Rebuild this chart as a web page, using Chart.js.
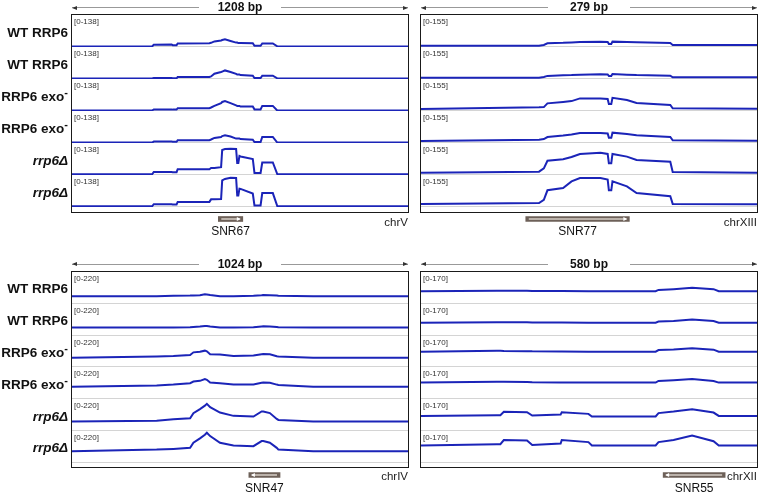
<!DOCTYPE html>
<html lang="en">
<head>
<meta charset="UTF-8">
<title>snoRNA read coverage</title>
<script src="https://cdn.jsdelivr.net/npm/chart.js"></script>
<style>
  body { margin: 0; background: #fff; font-family: "Liberation Sans", Arial, sans-serif; }
  #fig { position: relative; width: 758px; height: 498px; overflow: hidden; background: #fff; }
  canvas { position: absolute; }
  .lab { position: absolute; left: 0; width: 68px; text-align: right; font-weight: bold; font-size: 13.5px; line-height: 16px; color: #111; white-space: nowrap; }
  .lab i { font-style: italic; }
  .lab .m { position: relative; top: -5px; font-size: 11px; }
  .rng { position: absolute; font-size: 8px; line-height: 9px; color: #333; }
  .box { position: absolute; border: 1.5px solid #1a1a1a; box-sizing: border-box; pointer-events: none; }
  .chr { position: absolute; font-size: 11.5px; line-height: 13px; color: #222; white-space: nowrap; }
  .rl { position: absolute; height: 0; border-top: 1px solid #999; }
  .ah { position: absolute; width: 0; height: 0; border-top: 2px solid transparent; border-bottom: 2px solid transparent; }
  .bp { position: absolute; font-weight: bold; font-size: 12px; line-height: 14px; color: #111; text-align: center; width: 82px; }
</style>
</head>
<body>
<div id="fig"></div>
<script>
  // sample names, one per track (same order in every panel)
  const sampleLabels = ['WT RRP6', 'WT RRP6', 'RRP6 exo-', 'RRP6 exo-', 'rrp6Δ', 'rrp6Δ'];

  // SNR67 window, chrV, 1208 bp, scale 0-138
  const snr67Pos  = [0, 288, 294, 358, 362, 376, 380, 494, 500, 512, 536, 540, 550, 570, 590, 594, 598, 602, 606, 650, 656, 678, 684, 722, 738, 1208];
  const snr67Wt1  = [2, 2, 10, 11, 8, 8, 15, 16, 18, 24, 28, 30, 33, 26, 19, 19, 17, 17, 17, 16, 5, 5, 15, 15, 3, 2];
  const snr67Wt2  = [2, 2, 4, 4, 3, 3, 9, 9, 11, 23, 30, 32, 37, 30, 22, 19, 19, 19, 17, 14, 4, 4, 14, 14, 3, 2];
  const snr67Exo1 = [2, 2, 7, 7, 6, 6, 12, 12, 15, 22, 34, 39, 43, 34, 24, 22, 22, 22, 19, 19, 7, 7, 22, 22, 2, 2];
  const snr67Exo2 = [2, 2, 6, 6, 5, 5, 12, 12, 15, 22, 26, 30, 33, 28, 19, 19, 19, 19, 17, 14, 4, 4, 26, 26, 2, 2];
  const snr67Del1 = [3, 3, 13, 13, 12, 12, 25, 25, 30, 30, 34, 108, 112, 113, 112, 52, 52, 82, 80, 69, 9, 9, 54, 54, 4, 3];
  const snr67Del2 = [3, 3, 12, 12, 11, 11, 22, 22, 33, 33, 34, 115, 121, 126, 125, 50, 50, 79, 78, 58, 7, 7, 60, 60, 4, 3];

  // SNR77 window, chrXIII, 279 bp, scale 0-155
  const snr77Pos  = [0, 98, 102, 105, 118, 125, 132, 149, 155, 156, 158, 159, 171, 179, 207, 209, 279];
  const snr77Wt1  = [6, 6, 10, 18, 20, 22, 24, 26, 24, 15, 15, 26, 24, 23, 19, 10, 10];
  const snr77Wt2  = [6, 6, 10, 15, 18, 19, 21, 23, 22, 15, 15, 24, 21, 19, 16, 8, 8];
  const snr77Exo1 = [10, 18, 19, 37, 44, 48, 61, 61, 58, 34, 34, 64, 53, 39, 29, 13, 11];
  const snr77Exo2 = [10, 16, 19, 29, 36, 41, 48, 48, 46, 26, 26, 50, 44, 37, 29, 13, 11];
  const snr77Del1 = [11, 16, 32, 69, 76, 87, 102, 108, 102, 57, 57, 102, 89, 73, 64, 15, 11];
  const snr77Del2 = [15, 19, 35, 81, 92, 124, 140, 140, 133, 81, 81, 124, 100, 68, 52, 15, 13];

  // SNR47 window, chrIV, 1024 bp, scale 0-220
  const snr47Pos  = [0, 258, 309, 360, 370, 390, 405, 411, 421, 451, 492, 553, 578, 583, 603, 624, 629, 735, 1024];
  const snr47Wt1  = [53, 53, 56, 58, 59, 60, 67, 66, 62, 53, 53, 56, 60, 62, 61, 58, 56, 53, 53];
  const snr47Wt2  = [58, 58, 59, 60, 62, 65, 69, 68, 65, 58, 58, 60, 66, 67, 66, 62, 60, 58, 58];
  const snr47Exo1 = [65, 74, 78, 85, 104, 108, 116, 111, 90, 88, 78, 81, 90, 92, 90, 76, 74, 65, 65];
  const snr47Exo2 = [85, 92, 99, 109, 120, 125, 137, 132, 113, 108, 99, 99, 111, 113, 111, 99, 97, 85, 85];
  const snr47Del1 = [65, 71, 81, 88, 123, 151, 174, 187, 164, 127, 104, 99, 134, 134, 123, 83, 76, 65, 65];
  const snr47Del2 = [81, 92, 97, 104, 139, 169, 194, 208, 185, 139, 120, 116, 151, 151, 139, 104, 92, 81, 81];

  // SNR55 window, chrXII, 580 bp, scale 0-170
  const snr55Pos  = [0, 131, 137, 143, 183, 192, 241, 243, 289, 295, 405, 410, 436, 468, 505, 514, 580];
  const snr55Wt1  = [68, 70, 70, 70, 70, 69, 69, 69, 68, 68, 68, 75, 79, 86, 79, 68, 68];
  const snr55Wt2  = [71, 73, 73, 73, 73, 72, 72, 72, 71, 71, 71, 77, 80, 87, 80, 71, 71];
  const snr55Exo1 = [84, 89, 89, 88, 87, 86, 85, 85, 84, 84, 84, 93, 96, 103, 95, 84, 84];
  const snr55Exo2 = [87, 91, 91, 91, 90, 89, 88, 88, 87, 87, 87, 96, 100, 106, 96, 87, 87];
  const snr55Del1 = [80, 84, 84, 102, 100, 82, 87, 100, 91, 77, 77, 95, 103, 116, 98, 80, 80];
  const snr55Del2 = [93, 100, 100, 122, 120, 96, 103, 122, 111, 93, 93, 111, 122, 146, 116, 93, 93];

  // windows: length (bp), data range, chromosome
  const windowBp    = [1208, 279, 1024, 580];
  const windowRange = [138, 155, 220, 170];
  const chroms      = ['chrV', 'chrXIII', 'chrIV', 'chrXII'];

  // gene annotation in each window (bp from window start)
  const genes      = ['SNR67', 'SNR77', 'SNR47', 'SNR55'];
  const geneStart  = [526, 87, 539, 418];
  const geneEnd    = [614, 173, 634, 525];
  const geneStrand = ['+', '+', '-', '-'];

  const positions = [snr67Pos, snr77Pos, snr47Pos, snr55Pos];
  const tracks = [
    [snr67Wt1, snr67Wt2, snr67Exo1, snr67Exo2, snr67Del1, snr67Del2],
    [snr77Wt1, snr77Wt2, snr77Exo1, snr77Exo2, snr77Del1, snr77Del2],
    [snr47Wt1, snr47Wt2, snr47Exo1, snr47Exo2, snr47Del1, snr47Del2],
    [snr55Wt1, snr55Wt2, snr55Exo1, snr55Exo2, snr55Del1, snr55Del2]
  ];

  // layout of the four panels
  const layout = [
    { left: 72,  top: 15,  th: 32,   ruler: 7,     geneTop: 213, genePad: 1, nameDy: 13, labels: true },
    { left: 421, top: 15,  th: 32,   ruler: 7,     geneTop: 213, genePad: 1, nameDy: 13, labels: false },
    { left: 72,  top: 272, th: 31.8, ruler: 263.5, geneTop: 468, genePad: 2, nameDy: 14, labels: true },
    { left: 421, top: 272, th: 31.8, ruler: 263.5, geneTop: 468, genePad: 2, nameDy: 14, labels: false }
  ];
  const W = 336;
  const fig = document.getElementById('fig');

  function el(tag, cls, css, html) {
    const e = document.createElement(tag);
    if (cls) e.className = cls;
    Object.assign(e.style, css || {});
    if (html !== undefined) e.innerHTML = html;
    fig.appendChild(e);
    return e;
  }

  function labelHtml(s) {
    if (s.indexOf('exo-') >= 0) return 'RRP6 exo<span class="m">-</span>';
    if (s.indexOf('rrp6') === 0) return '<i>' + s + '</i>';
    return s;
  }

  // light grey line under each track
  const separator = {
    id: 'separator',
    beforeDatasetsDraw(chart) {
      const { ctx, chartArea } = chart;
      ctx.save();
      ctx.strokeStyle = '#d4d4d4';
      ctx.lineWidth = 1;
      ctx.beginPath();
      ctx.moveTo(chartArea.left, chartArea.bottom - 0.5);
      ctx.lineTo(chartArea.right, chartArea.bottom - 0.5);
      ctx.stroke();
      ctx.restore();
    }
  };

  // gene glyph: inner light line, strand arrow and the gene name
  const geneGlyph = {
    id: 'geneGlyph',
    afterDatasetsDraw(chart, args, opts) {
      const { ctx } = chart;
      const bar = chart.getDatasetMeta(0).data[0];
      const p = bar.getProps(['x', 'base', 'y', 'height'], true);
      const x0 = Math.min(p.x, p.base), x1 = Math.max(p.x, p.base);
      ctx.save();
      ctx.strokeStyle = '#d6cec6';
      ctx.lineWidth = 1.5;
      ctx.beginPath();
      ctx.moveTo(x0 + 3, p.y);
      ctx.lineTo(x1 - 3, p.y);
      ctx.stroke();
      ctx.fillStyle = '#fff';
      ctx.beginPath();
      if (opts.strand === '+') {
        ctx.moveTo(x1 - 2, p.y);
        ctx.lineTo(x1 - 6, p.y - 2);
        ctx.lineTo(x1 - 6, p.y + 2);
      } else {
        ctx.moveTo(x0 + 2, p.y);
        ctx.lineTo(x0 + 6, p.y - 2);
        ctx.lineTo(x0 + 6, p.y + 2);
      }
      ctx.fill();
      ctx.fillStyle = '#111';
      ctx.font = '12px "Liberation Sans", Arial, sans-serif';
      ctx.textAlign = 'center';
      ctx.textBaseline = 'middle';
      ctx.fillText(opts.name, (x0 + x1) / 2, p.y + opts.dy);
      ctx.restore();
    }
  };

  layout.forEach((L, p) => {
    const bp = windowBp[p];
    // coverage tracks
    tracks[p].forEach((vals, j) => {
      const top = Math.round(L.top + j * L.th);
      const next = Math.round(L.top + (j + 1) * L.th);
      const c = el('canvas', '', { left: L.left + 'px', top: top + 'px' });
      c.width = W;
      c.height = next - top;
      new Chart(c, {
        type: 'line',
        data: {
          datasets: [{
            data: positions[p].map((x, k) => ({ x: x, y: vals[k] })),
            borderColor: '#1b24b8',
            borderWidth: 2,
            pointRadius: 0,
            tension: 0,
            fill: false
          }]
        },
        options: {
          responsive: false,
          animation: false,
          events: [],
          layout: { padding: 0 },
          plugins: { legend: { display: false }, tooltip: { enabled: false } },
          scales: {
            x: { type: 'linear', min: 0, max: bp, display: false },
            y: { min: 0, max: windowRange[p], display: false }
          }
        },
        plugins: [separator]
      });
      el('div', 'rng', { left: (L.left + 2) + 'px', top: (top + 2) + 'px' }, '[0-' + windowRange[p] + ']');
      if (L.labels) {
        el('div', 'lab', { top: (L.top + (j + 0.5) * L.th + 1.5 - 8) + 'px' }, labelHtml(sampleLabels[j]));
      }
    });

    // panel frame
    const bottom = L.top + 6 * L.th + 4.5;
    el('div', 'box', {
      left: (L.left - 1) + 'px', top: (L.top - 1) + 'px',
      width: (W + 2) + 'px', height: (bottom - L.top + 2) + 'px'
    });

    // ruler with window length
    const mid = L.left + W / 2;
    el('div', 'rl', { left: L.left + 'px', top: L.ruler + 'px', width: (mid - 41 - L.left) + 'px' });
    el('div', 'rl', { left: (mid + 41) + 'px', top: L.ruler + 'px', width: (L.left + W - mid - 41) + 'px' });
    el('div', 'ah', { left: L.left + 'px', top: (L.ruler - 1.5) + 'px', borderRight: '5px solid #333' });
    el('div', 'ah', { left: (L.left + W - 5) + 'px', top: (L.ruler - 1.5) + 'px', borderLeft: '5px solid #333' });
    el('div', 'bp', { left: (mid - 41) + 'px', top: (L.ruler - 7) + 'px' }, bp + ' bp');

    // gene annotation
    const g = el('canvas', '', { left: L.left + 'px', top: L.geneTop + 'px' });
    g.width = W;
    g.height = 28;
    new Chart(g, {
      type: 'bar',
      data: {
        labels: [genes[p]],
        datasets: [{
          data: [[geneStart[p], geneEnd[p]]],
          backgroundColor: '#6d6058',
          borderWidth: 0,
          barThickness: 5
        }]
      },
      options: {
        indexAxis: 'y',
        responsive: false,
        animation: false,
        events: [],
        layout: { padding: { top: L.genePad, bottom: 28 - L.genePad - 10, left: 0, right: 0 } },
        plugins: {
          legend: { display: false }, tooltip: { enabled: false },
          geneGlyph: { strand: geneStrand[p], name: genes[p], dy: L.nameDy }
        },
        scales: {
          x: { type: 'linear', min: 0, max: bp, display: false },
          y: { display: false }
        }
      },
      plugins: [geneGlyph]
    });

    el('div', 'chr', { right: (758 - L.left - W) + 'px', top: (L.geneTop + (p < 2 ? 2.5 : 2) ) + 'px' }, chroms[p]);
  });
</script>
</body>
</html>
